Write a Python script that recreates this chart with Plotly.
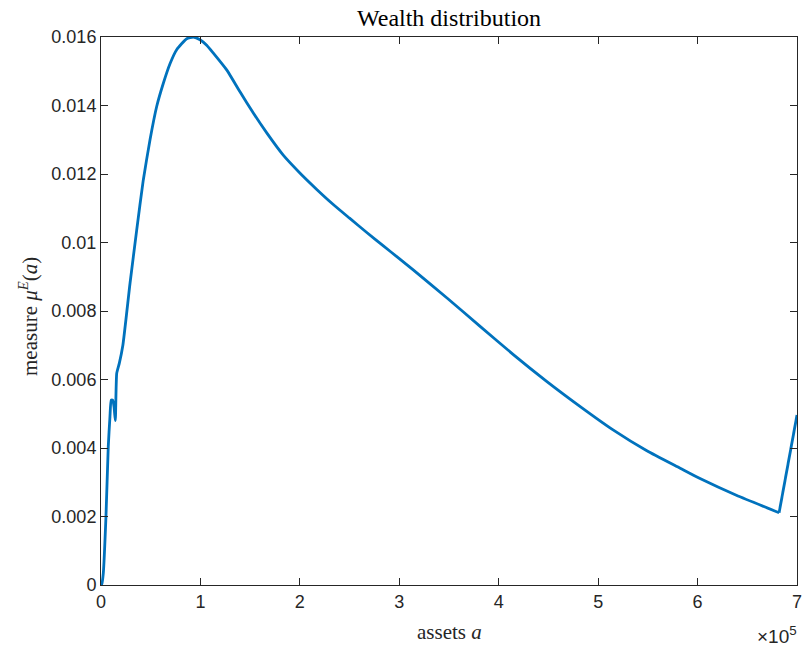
import plotly.graph_objects as go

# Stationary wealth distribution of the employed, mu^E(a)
assets = [0, 700, 2300, 5000, 7300, 9000, 10300, 11700, 13100, 14400, 15800,
          18400, 22000, 29200, 35900, 42500, 49300, 56000, 62700, 69400,
          76100, 86200, 92800, 99600, 106300, 113000, 126400, 139800, 153200,
          166700, 183300, 200000, 217000, 233600, 250000, 267000, 284000,
          300000, 314000, 348000, 381000, 415000, 448500, 482000, 515000,
          549000, 582500, 603000, 639000, 682000, 700000]
measure = [0, 0.00002, 0.00034, 0.0020, 0.00404, 0.00491, 0.0054, 0.0054,
           0.0052, 0.0048, 0.00618, 0.00647, 0.00700, 0.00881, 0.01036,
           0.01182, 0.0130, 0.01397, 0.01465, 0.01522, 0.01563, 0.01595,
           0.01600, 0.01592, 0.01576, 0.01553, 0.01504, 0.0144, 0.01378,
           0.01320, 0.01255, 0.01203, 0.01155, 0.01111, 0.01071, 0.01030,
           0.00990, 0.00953, 0.00920, 0.00838, 0.00756, 0.00672, 0.00594,
           0.00521, 0.00453, 0.00392, 0.00341, 0.00310, 0.00262, 0.00211,
           0.00496]

x_tickvals = [0, 100000, 200000, 300000, 400000, 500000, 600000, 700000]
x_ticktext = ["0", "1", "2", "3", "4", "5", "6", "7"]
y_tickvals = [0, 0.002, 0.004, 0.006, 0.008, 0.010, 0.012, 0.014, 0.016]
y_ticktext = ["0", "0.002", "0.004", "0.006", "0.008", "0.01", "0.012",
              "0.014", "0.016"]

axis_col = "#262626"
line_col = "#0072BD"
serif = "Liberation Serif"
sans = "Liberation Sans"

fig = go.Figure()
# smooth body of the distribution, up to the kink near the top of the grid
fig.add_trace(go.Scatter(
    x=assets[:-1], y=measure[:-1], mode="lines",
    line=dict(color=line_col, width=2.8, shape="spline", smoothing=0.5),
    hoverinfo="skip", showlegend=False,
))
# mass accumulating at the upper bound of the asset grid
fig.add_trace(go.Scatter(
    x=assets[-2:], y=measure[-2:], mode="lines",
    line=dict(color=line_col, width=2.8),
    hoverinfo="skip", showlegend=False,
))

common_axis = dict(
    showgrid=False, zeroline=False, showline=True, linecolor=axis_col,
    linewidth=1, mirror="ticks", ticks="inside", ticklen=7,
    tickcolor=axis_col, tickwidth=1, automargin=False,
    tickfont=dict(family=sans, size=18, color=axis_col),
)

fig.update_layout(
    width=804, height=647,
    margin=dict(l=101, r=7, t=37, b=62),
    paper_bgcolor="white", plot_bgcolor="white",
    xaxis=dict(range=[0, 700000], tickvals=x_tickvals, ticktext=x_ticktext,
               **common_axis),
    yaxis=dict(range=[0, 0.016], tickvals=y_tickvals, ticktext=y_ticktext,
               **common_axis),
    annotations=[
        dict(text="Wealth distribution", xref="paper", yref="paper",
             x=0.5, y=1, yanchor="middle", yshift=19, showarrow=False,
             font=dict(family=serif, size=24, color="black")),
        dict(text="assets <i>a</i>", xref="paper", yref="paper",
             x=0.5, y=0, yanchor="middle", yshift=-47, showarrow=False,
             font=dict(family=serif, size=21, color=axis_col)),
        dict(text="measure <i>μ</i><sup><i>E</i></sup>(<i>a</i>)",
             xref="paper", yref="paper", x=0, y=0.5, xanchor="center",
             yanchor="middle", xshift=-73, yshift=-6, textangle=-90,
             showarrow=False,
             font=dict(family=serif, size=21, color=axis_col)),
        dict(text="×10<sup>5</sup>", xref="paper", yref="paper",
             x=1, y=0, xanchor="right", yanchor="middle", yshift=-50,
             xshift=2, showarrow=False,
             font=dict(family=sans, size=19, color=axis_col)),
    ],
)

fig.write_html("out.html")
